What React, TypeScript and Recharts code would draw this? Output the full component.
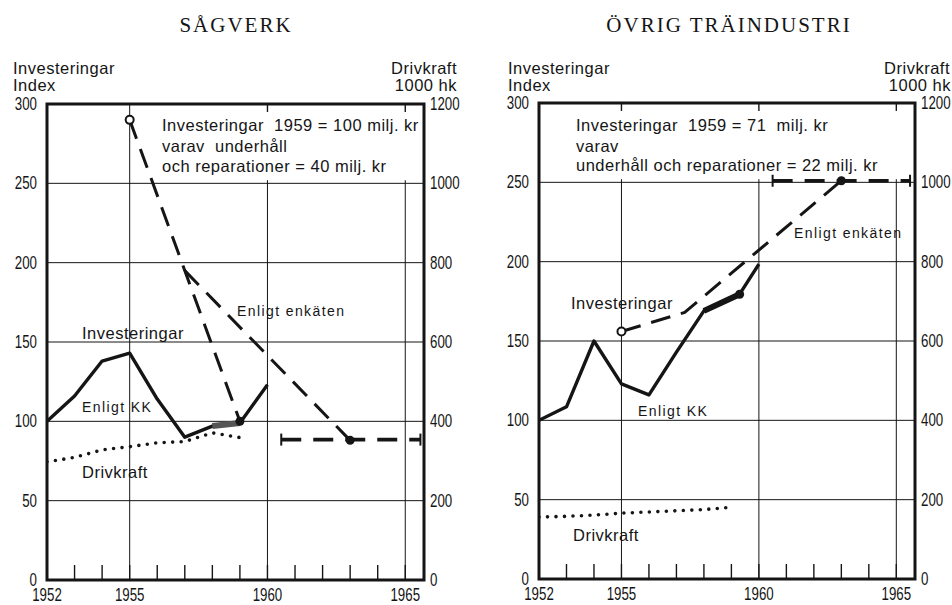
import React from 'react';
import { LineChart, Line, XAxis, YAxis, CartesianGrid, ReferenceLine, ReferenceArea } from 'recharts';

const yearTicks = [1952, 1953, 1954, 1955, 1956, 1957, 1958, 1959, 1960, 1961, 1962, 1963, 1964, 1965];
const yearLabels = [1952, 1955, 1960, 1965];
const indexTicks = [0, 50, 100, 150, 200, 250, 300];
const hkTicks = [0, 200, 400, 600, 800, 1000, 1200];

// SÅGVERK
const sagKkYears = [1952, 1953, 1954, 1955, 1956, 1957, 1958, 1959, 1960];
const sagKkIndex = [100, 116, 138, 143, 114, 90, 97, 99, 123];
const sagEnkSteepYears = [1955, 1959];
const sagEnkSteep = [290, 100];
const sagEnkYears = [1957, 1963];
const sagEnk = [195, 88];
const sagPlanYears = [1960.5, 1965.55];
const sagPlan = [88.5, 88.5];
const sagOverlapYears = [1958, 1959];
const sagOverlap = [97, 99];
const sagDrivYears = [1952, 1953, 1954, 1955, 1956, 1957, 1958, 1959];
const sagDrivHk = [298, 309, 328, 336, 346, 349, 371, 359];

// ÖVRIG TRÄINDUSTRI
const ovrKkYears = [1952, 1953, 1954, 1955, 1956, 1957, 1958, 1959.3, 1960];
const ovrKkIndex = [100, 108.5, 150, 123, 116, 143, 169, 179.5, 198.5];
const ovrEnkYears = [1955, 1957.3, 1963];
const ovrEnk = [156, 168, 251];
const ovrPlanYears = [1960.5, 1965.5];
const ovrPlan = [251, 251];
const ovrOverlapYears = [1958, 1959.3];
const ovrOverlap = [169, 179.5];
const ovrDrivYears = [1952, 1953, 1954, 1955, 1956, 1957, 1958, 1959];
const ovrDrivHk = [156, 158, 161, 166, 169, 172, 175, 181];

const pts = (xs: number[], ys: number[]) => xs.map((year, i) => ({ year, v: ys[i] }));

const INK = '#151515';
const FONT = "'Liberation Sans', Arial, sans-serif";
const SERIF = "'Liberation Serif', 'DejaVu Serif', serif";

type Mark = 'open' | 'filled' | 'bar' | null;

const marker = (marks: Mark[]) => (p: any) => {
  const m = marks[p.index];
  const k = `m${p.index}`;
  if (m === 'open') return <circle key={k} cx={p.cx} cy={p.cy} r={4} fill="#fff" stroke={INK} strokeWidth={2} />;
  if (m === 'filled') return <circle key={k} cx={p.cx} cy={p.cy} r={4.5} fill={INK} />;
  if (m === 'bar') return <line key={k} x1={p.cx} x2={p.cx} y1={p.cy - 6} y2={p.cy + 6} stroke={INK} strokeWidth={2} />;
  return <g key={k} />;
};

// narrow, tall digits like the hand lettering
const Narrow = ({ x, y, anchor, children }: any) => (
  <text
    transform={`translate(${x},${y}) scale(0.76,1)`}
    textAnchor={anchor}
    fontSize={17.5}
    fontFamily={FONT}
    fill={INK}
  >
    {children}
  </text>
);

const YearTick = (p: any) => {
  const yr = p.payload.value;
  return (
    <g>
      <line x1={p.x} x2={p.x} y1={p.y} y2={p.y - 15} stroke={INK} strokeWidth={1.4} />
      {yearLabels.includes(yr) && (
        <Narrow x={p.x} y={p.y + 21} anchor="middle">
          {yr}
        </Narrow>
      )}
    </g>
  );
};

const NumTick = (p: any) => (
  <Narrow x={p.x} y={p.y + 6} anchor={p.textAnchor}>
    {p.payload.value}
  </Narrow>
);

type Txt = { text: string; x: number; y: number; small?: boolean; right?: boolean };

function Label({ t }: { t: Txt }) {
  return (
    <div
      style={{
        position: 'absolute',
        top: t.y - 8,
        height: 16,
        lineHeight: '16px',
        left: t.right ? undefined : t.x,
        right: t.right ? 476 - t.x : undefined,
        fontFamily: FONT,
        fontSize: t.small ? 14 : 16.5,
        letterSpacing: t.small ? 1.4 : 0.5,
        color: INK,
        whiteSpace: 'pre',
      }}
    >
      {t.text}
    </div>
  );
}

type Pt = { year: number; v: number };

type PanelProps = {
  left: number;
  title: string;
  titleX: number;
  top: number;
  bottom: number;
  leftW: number;
  rightW: number;
  kk: Pt[];
  kkMarks: Mark[];
  overlap: Pt[];
  overlapColor: string;
  enk: { data: Pt[]; marks: Mark[] }[];
  plan: Pt[];
  driv: Pt[];
  fullGrid: number[];
  cutGrid: number[];
  topTicks: number[];
  texts: Txt[];
};

function Panel(p: PanelProps) {
  const chartH = 605;
  return (
    <div style={{ position: 'absolute', left: p.left, top: 0, width: 476, height: chartH }}>
      <div
        style={{
          position: 'absolute',
          top: 12,
          left: p.titleX - 200,
          width: 400,
          textAlign: 'center',
          fontFamily: SERIF,
          fontSize: 21,
          letterSpacing: 2,
          color: INK,
          lineHeight: '26px',
        }}
      >
        {p.title}
      </div>
      <LineChart width={476} height={chartH} margin={{ top: p.top, right: 0, bottom: 0, left: 0 }}>
        <CartesianGrid vertical={false} stroke={INK} strokeWidth={1} />
        <XAxis
          type="number"
          dataKey="year"
          domain={[1952, 1965.68]}
          allowDataOverflow
          ticks={yearTicks}
          interval={0}
          tick={<YearTick />}
          tickSize={0}
          tickMargin={0}
          tickLine={false}
          axisLine={false}
          height={chartH - p.bottom}
        />
        <YAxis
          domain={[0, 300]}
          ticks={indexTicks}
          interval={0}
          width={p.leftW}
          tickSize={0}
          tickMargin={10}
          tickLine={false}
          axisLine={false}
          tick={<NumTick />}
        />
        <YAxis
          yAxisId="r"
          orientation="right"
          domain={[0, 1200]}
          ticks={hkTicks}
          interval={0}
          width={p.rightW}
          tickSize={0}
          tickMargin={6}
          tickLine={false}
          axisLine={false}
          tick={<NumTick />}
        />
        {p.fullGrid.map((x) => (
          <ReferenceLine key={`f${x}`} segment={[{ x, y: 0 }, { x, y: 300 }]} stroke={INK} strokeWidth={1} />
        ))}
        {p.cutGrid.map((x) => (
          <ReferenceLine key={`c${x}`} segment={[{ x, y: 0 }, { x, y: 252 }]} stroke={INK} strokeWidth={1} />
        ))}
        {p.topTicks.map((x) => (
          <ReferenceLine key={`t${x}`} segment={[{ x, y: 295 }, { x, y: 300 }]} stroke={INK} strokeWidth={1.4} />
        ))}
        <Line
          data={p.driv}
          dataKey="v"
          yAxisId="r"
          stroke={INK}
          strokeWidth={3.6}
          strokeDasharray="0 8.5"
          strokeLinecap="round"
          dot={false}
          isAnimationActive={false}
        />
        <Line
          data={p.kk}
          dataKey="v"
          stroke={INK}
          strokeWidth={3.4}
          strokeLinejoin="round"
          dot={marker(p.kkMarks)}
          isAnimationActive={false}
        />
        <Line data={p.overlap} dataKey="v" stroke={p.overlapColor} strokeWidth={6} dot={false} isAnimationActive={false} />
        {p.enk.map((s, i) => (
          <Line
            key={`e${i}`}
            data={s.data}
            dataKey="v"
            stroke={INK}
            strokeWidth={3}
            strokeDasharray="20 11"
            dot={marker(s.marks)}
            isAnimationActive={false}
          />
        ))}
        <Line
          data={p.plan}
          dataKey="v"
          stroke={INK}
          strokeWidth={3.6}
          strokeDasharray="20 12"
          dot={marker(['bar', 'bar'])}
          isAnimationActive={false}
        />
        <ReferenceArea x1={1952} x2={1965.68} y1={0} y2={300} fill="none" stroke={INK} strokeWidth={3} />
      </LineChart>
      {p.texts.map((t, i) => (
        <Label key={i} t={t} />
      ))}
    </div>
  );
}

export default function App() {
  return (
    <div style={{ position: 'absolute', left: 0, top: 0, width: 952, height: 605, background: '#fff', overflow: 'hidden' }}>
      <Panel
        left={0}
        title="SÅGVERK"
        titleX={236}
        top={104}
        bottom={580}
        leftW={47}
        rightW={52}
        kk={pts(sagKkYears, sagKkIndex)}
        kkMarks={[]}
        overlap={pts(sagOverlapYears, sagOverlap)}
        overlapColor="#555"
        enk={[
          { data: pts(sagEnkSteepYears, sagEnkSteep), marks: ['open', 'filled'] },
          { data: pts(sagEnkYears, sagEnk), marks: [null, 'filled'] },
        ]}
        plan={pts(sagPlanYears, sagPlan)}
        driv={pts(sagDrivYears, sagDrivHk)}
        fullGrid={[1955]}
        cutGrid={[1960, 1965]}
        topTicks={[1960, 1965]}
        texts={[
          { text: 'Investeringar', x: 13, y: 68 },
          { text: 'Index', x: 13, y: 85 },
          { text: 'Drivkraft', x: 457, y: 68, right: true },
          { text: '1000 hk', x: 457, y: 85, right: true },
          { text: 'Investeringar  1959 = 100 milj. kr', x: 162, y: 125 },
          { text: 'varav  underhåll', x: 162, y: 146 },
          { text: 'och reparationer = 40 milj. kr', x: 162, y: 166 },
          { text: 'Enligt enkäten', x: 237, y: 311, small: true },
          { text: 'Investeringar', x: 82, y: 333 },
          { text: 'Enligt KK', x: 82, y: 407, small: true },
          { text: 'Drivkraft', x: 82, y: 472 },
        ]}
      />
      <Panel
        left={476}
        title="ÖVRIG TRÄINDUSTRI"
        titleX={253}
        top={103}
        bottom={579}
        leftW={63}
        rightW={37}
        kk={pts(ovrKkYears, ovrKkIndex)}
        kkMarks={[null, null, null, null, null, null, null, 'filled', null]}
        overlap={pts(ovrOverlapYears, ovrOverlap)}
        overlapColor={INK}
        enk={[{ data: pts(ovrEnkYears, ovrEnk), marks: ['open', null, 'filled'] }]}
        plan={pts(ovrPlanYears, ovrPlan)}
        driv={pts(ovrDrivYears, ovrDrivHk)}
        fullGrid={[]}
        cutGrid={[1955, 1960, 1965]}
        topTicks={[1955, 1960, 1965]}
        texts={[
          { text: 'Investeringar', x: 32, y: 68 },
          { text: 'Index', x: 32, y: 85 },
          { text: 'Drivkraft', x: 474, y: 68, right: true },
          { text: '1000 hk', x: 475, y: 85, right: true },
          { text: 'Investeringar  1959 = 71  milj. kr', x: 100, y: 125 },
          { text: 'varav', x: 100, y: 146 },
          { text: 'underhåll och reparationer = 22 milj. kr', x: 100, y: 165 },
          { text: 'Enligt enkäten', x: 318, y: 233, small: true },
          { text: 'Investeringar', x: 95, y: 303 },
          { text: 'Enligt KK', x: 162, y: 411, small: true },
          { text: 'Drivkraft', x: 97, y: 535 },
        ]}
      />
    </div>
  );
}
